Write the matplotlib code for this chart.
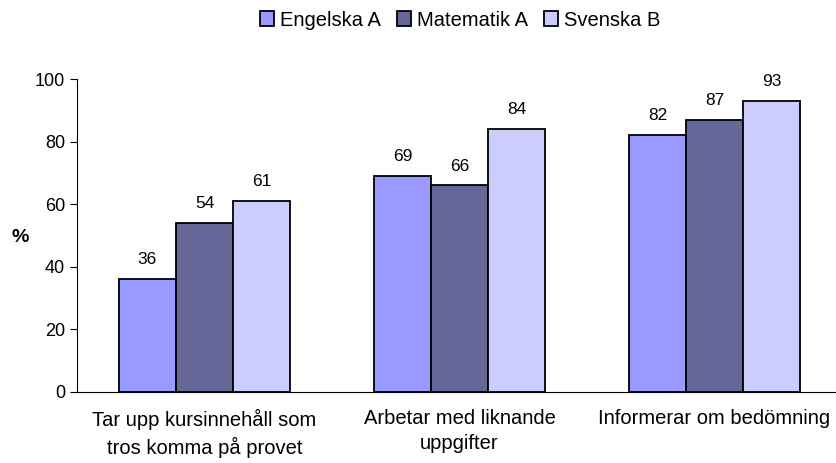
import numpy as np
import matplotlib
matplotlib.use("Agg")
from matplotlib import pyplot as plt

plt.rcParams['font.family'] = ['Liberation Sans', 'DejaVu Sans']

categories = ["Tar upp kursinnehåll som\ntros komma på provet",
              "Arbetar med liknande\nuppgifter",
              "Informerar om bedömning"]
series = ["Engelska A", "Matematik A", "Svenska B"]
engelska = [36, 69, 82]
matematik = [54, 66, 87]
svenska = [61, 84, 93]
colors = ["#9999FF", "#666699", "#CCCCFF"]

fig = plt.figure(figsize=(8.37, 4.63), dpi=100)
ax = fig.add_axes([77/837, 1-392/463, (837-77)/837, (392-79)/463])

x = np.arange(len(categories))
w = 0.224
for i, (name, vals) in enumerate(zip(series, [engelska, matematik, svenska])):
    pos = x + (i - 1) * w
    ax.bar(pos, vals, width=w, color=colors[i], edgecolor="black",
           linewidth=1.3, label=name)
    for p, v in zip(pos, vals):
        ax.text(p, v + 6.2, str(v), ha="center", va="center", fontsize=12.5)

ax.set_xlim(-0.5, -0.5 + (837-77)/255)
ax.set_ylim(0, 100)
ax.set_yticks([0, 20, 40, 60, 80, 100])
ax.tick_params(axis="y", labelsize=13, length=5, direction="out")
ax.set_xticks(x)
ax.set_xticklabels(categories, fontsize=14.5, linespacing=1.45)
ax.tick_params(axis="x", length=0, pad=12)
for s in ["top", "right"]:
    ax.spines[s].set_visible(False)
ax.spines["left"].set_linewidth(0.8)
ax.spines["bottom"].set_linewidth(0.8)

fig.text(20/837, 1-237/463, "%", fontsize=14, fontweight="bold",
         ha="center", va="center")

fig.legend(loc="center", bbox_to_anchor=(460/837, 1-20/463), ncol=3,
           frameon=False, fontsize=14.5, handlelength=0.7, handleheight=0.7,
           handletextpad=0.3, columnspacing=0.8)

fig.savefig("out.png", dpi=100)
